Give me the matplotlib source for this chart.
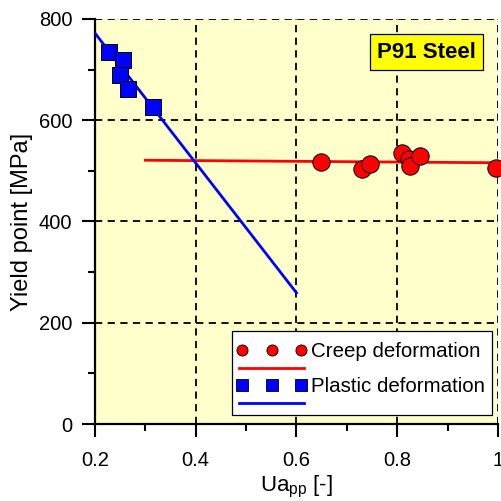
import numpy as np
import matplotlib
matplotlib.use("Agg")
import matplotlib.pyplot as plt
from matplotlib.lines import Line2D
from matplotlib.legend_handler import HandlerLine2D
from matplotlib.ticker import MultipleLocator, FixedLocator, FixedFormatter

plt.rcParams['font.family'] = ['Liberation Sans', 'DejaVu Sans']
plt.rcParams['mathtext.fontset'] = 'custom'
plt.rcParams['mathtext.rm'] = 'Liberation Sans'
plt.rcParams['mathtext.it'] = 'Liberation Sans'

# Data
plastic_x = [0.228, 0.256, 0.250, 0.265, 0.315]
plastic_y = [734, 719, 689, 662, 627]
creep_x = [0.649, 0.730, 0.745, 0.809, 0.824, 0.825, 0.845, 0.997]
creep_y = [518, 504, 513, 535, 523, 510, 529, 506]
plastic_fit_x = [0.2, 0.6]
plastic_fit_y = [772, 259]
creep_fit_x = [0.3, 1.0]
creep_fit_y = [521, 516]
x_ticks = [0.2, 0.4, 0.6, 0.8, 1.0]
x_ticklabels = ["0.2", "0.4", "0.6", "0.8", "1"]
y_ticks = [0, 200, 400, 600, 800]

fig = plt.figure(figsize=(5.02, 5.01), dpi=100)
ax = fig.add_axes([95/502, 77/501, 403/502, 405/501])
ax.set_facecolor('#FFFFCC')

ax.set_xlim(0.2, 1.0)
ax.set_ylim(0, 800)

ax.grid(True, which='major', color='black', linestyle=(0, (4, 3)), linewidth=1.3)
ax.set_axisbelow(True)

ax.plot(creep_fit_x, creep_fit_y, color='#FF0000', lw=2.0, zorder=3)
ax.plot(plastic_fit_x, plastic_fit_y, color='#0000FF', lw=2.0, zorder=3)
ax.plot(creep_x, creep_y, 'o', color='#FF0000', mec='black', mew=0.7, ms=12.5, zorder=4, clip_on=False)
ax.plot(plastic_x, plastic_y, 's', color='#0000FF', mec='black', mew=0.7, ms=12, zorder=4, clip_on=False)

for s in ['top', 'right']:
    ax.spines[s].set_visible(False)
for s in ['left', 'bottom']:
    ax.spines[s].set_linewidth(1.6)

ax.xaxis.set_major_locator(FixedLocator(x_ticks))
ax.xaxis.set_major_formatter(FixedFormatter(x_ticklabels))
ax.xaxis.set_minor_locator(MultipleLocator(0.1))
ax.yaxis.set_major_locator(FixedLocator(y_ticks))
ax.yaxis.set_minor_locator(MultipleLocator(100))
ax.tick_params(which='major', direction='out', length=9.3, width=1.5, labelsize=14.5)
ax.tick_params(axis='x', which='major', pad=10)
ax.tick_params(axis='y', which='major', pad=7)
ax.tick_params(which='minor', direction='out', length=5, width=1.5)

ax.set_xlabel("Ua$_{\\mathrm{pp}}$ [-]", fontsize=16, labelpad=3)
ax.set_ylabel("Yield point [MPa]", fontsize=17, labelpad=4)

ax.text(0.8226, 0.9185, "P91 Steel", transform=ax.transAxes, ha='center', va='center',
        fontsize=16, fontweight='bold',
        bbox=dict(boxstyle='square,pad=0.33', facecolor='#FFFF00', edgecolor='black', linewidth=0.9),
        zorder=6)

h_creep_m = Line2D([], [], ls='none', marker='o', color='#FF0000', mec='black', mew=0.6, ms=8)
h_creep_l = Line2D([], [], color='#FF0000', lw=2)
h_plast_m = Line2D([], [], ls='none', marker='s', color='#0000FF', mec='black', mew=0.6, ms=8)
h_plast_l = Line2D([], [], color='#0000FF', lw=2)
handles = [h_creep_m, h_creep_l, h_plast_m, h_plast_l]
labels = ["Creep deformation", "", "Plastic deformation ", ""]
hmap = {
    h_creep_m: HandlerLine2D(numpoints=3, marker_pad=0.44),
    h_plast_m: HandlerLine2D(numpoints=3, marker_pad=0.44),
    h_creep_l: HandlerLine2D(numpoints=3, marker_pad=0.3),
    h_plast_l: HandlerLine2D(numpoints=3, marker_pad=0.3),
}
leg = ax.legend(handles, labels, loc='lower right', bbox_to_anchor=(0.9851, 0.0222),
                handler_map=hmap,
                handlelength=3.75, handletextpad=0.04, labelspacing=-0.07,
                fontsize=14.8, frameon=True, fancybox=False, borderpad=0.05,
                title=" ", title_fontsize=9.5,
                borderaxespad=0.0, edgecolor='black', framealpha=1.0)
leg.get_frame().set_linewidth(0.9)
leg.set_zorder(7)

fig.savefig("out.png", dpi=100)
